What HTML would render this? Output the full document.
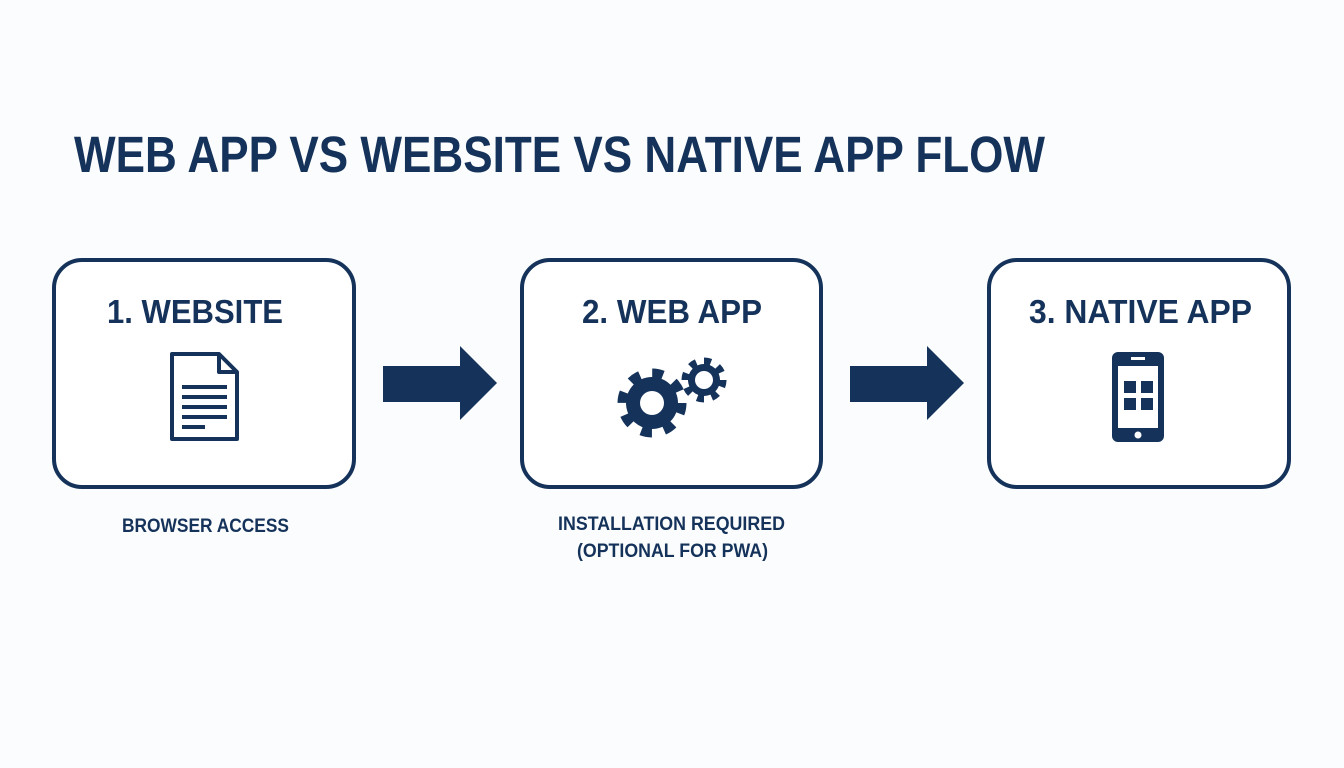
<!DOCTYPE html>
<html><head><style>html,body{margin:0;padding:0;background:#fbfcfd;}svg{display:block}</style></head>
<body>
<svg width="1344" height="768" viewBox="0 0 1344 768" xmlns="http://www.w3.org/2000/svg" font-family="Liberation Sans, sans-serif" font-weight="bold" fill="#14325a">
<rect width="1344" height="768" fill="#fbfcfd"/>
<text x="74" y="172" font-size="51" textLength="971" lengthAdjust="spacingAndGlyphs">WEB APP VS WEBSITE VS NATIVE APP FLOW</text>
<g fill="#fff" stroke="#14325a" stroke-width="4">
<rect x="54" y="260" width="300" height="227" rx="28"/>
<rect x="522" y="260" width="299" height="227" rx="28"/>
<rect x="989" y="260" width="300" height="227" rx="28"/>
</g>
<text x="107" y="323" font-size="33" textLength="176" lengthAdjust="spacingAndGlyphs">1. WEBSITE</text>
<text x="582" y="323" font-size="33" textLength="180" lengthAdjust="spacingAndGlyphs">2. WEB APP</text>
<text x="1029" y="323" font-size="33" textLength="223" lengthAdjust="spacingAndGlyphs">3. NATIVE APP</text>
<!-- arrows -->
<polygon points="383,366 460,366 460,346 497,383 460,420 460,402 383,402"/>
<polygon points="850,366 927,366 927,346 964,383 927,420 927,402 850,402"/>
<!-- doc -->
<path d="M172,354 H219 L237,372 V439 H172 Z" fill="none" stroke="#14325a" stroke-width="4" stroke-linejoin="round"/>
<path d="M219,354 V372 H237" fill="none" stroke="#14325a" stroke-width="4" stroke-linejoin="round"/>
<g stroke="#14325a" stroke-width="4">
<line x1="182" y1="387" x2="227" y2="387"/><line x1="182" y1="397" x2="227" y2="397"/>
<line x1="182" y1="407" x2="227" y2="407"/><line x1="182" y1="417" x2="227" y2="417"/>
<line x1="182" y1="427" x2="205" y2="427"/>
</g>
<!-- gears -->
<circle cx="652" cy="403" r="26"/>
<circle cx="652" cy="403" r="30" fill="none" stroke="#14325a" stroke-width="9" stroke-dasharray="11 12.56"/>
<circle cx="652" cy="403" r="12" fill="#fff"/>
<circle cx="704" cy="380" r="16"/>
<circle cx="704" cy="380" r="19" fill="none" stroke="#14325a" stroke-width="7" stroke-dasharray="7 7.9"/>
<circle cx="704" cy="380" r="9" fill="#fff"/>
<!-- phone -->
<rect x="1112" y="352" width="52" height="90" rx="6"/>
<rect x="1118" y="366" width="40" height="62" fill="#fff"/>
<rect x="1131" y="357" width="14" height="3" fill="#fff"/>
<circle cx="1138" cy="435" r="3.5" fill="#fff"/>
<rect x="1124" y="381" width="12" height="12"/><rect x="1141" y="381" width="12" height="12"/>
<rect x="1124" y="398" width="12" height="12"/><rect x="1141" y="398" width="12" height="12"/>
<!-- labels -->
<text x="122" y="532" font-size="19" textLength="167" lengthAdjust="spacingAndGlyphs">BROWSER ACCESS</text>
<text x="558" y="530" font-size="19" textLength="227" lengthAdjust="spacingAndGlyphs">INSTALLATION REQUIRED</text>
<text x="577" y="557" font-size="19" textLength="191" lengthAdjust="spacingAndGlyphs">(OPTIONAL FOR PWA)</text>
</svg>
</body></html>
